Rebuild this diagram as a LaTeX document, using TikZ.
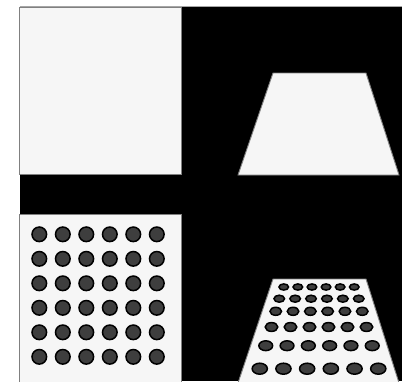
\documentclass[tikz,border=0pt]{standalone}
\definecolor{paper}{HTML}{F6F6F6}
\definecolor{dotgray}{HTML}{3E3E3E}

\begin{document}
\begin{tikzpicture}[x=1pt, y=-1pt,
  panel/.style={fill=paper, draw=gray, line width=0.9pt},
  dot/.style={fill=dotgray, draw=black, line width=1.5pt}]
	\useasboundingbox (0,0) rectangle (402,381);
	\fill[white] (0,0) rectangle (402,381);
	\fill[black] (19.5,7) rectangle (402,381);
	\draw[gray!70, line width=0.8pt] (19.5,6.6) -- (402,6.6);
	% flat square
	\draw[panel] (19.5,7) rectangle (181,174);
	% tilted square
	\draw[panel] (273,73) -- (366,73) -- (399,175) -- (238,175) -- cycle;
	% flat square with dots
	\draw[panel] (19.5,214) rectangle (181,383);
	\foreach \i in {0,...,5}
		\foreach \j in {0,...,5}
			\filldraw[dot] (39.3+23.5*\i, 234.3+24.5*\j) circle (7.3);
	% tilted square with dots
	\draw[panel] (273,279) -- (366,279) -- (399,383) -- (238,383) -- cycle;
	\foreach \y/\d/\rx/\ry in {287/14.1/4.8/3.1, 298.7/15.9/5.3/3.5, 311.3/17.3/5.8/4,
		327/19/6.3/4.4, 345.7/21.3/6.9/4.9, 368.7/23.7/7.6/5.5}
		\foreach \k in {0,...,5}
			\filldraw[dot] (319+\d*\k-2.5*\d, \y) ellipse ({\rx} and {\ry});
\end{tikzpicture}
\end{document}
